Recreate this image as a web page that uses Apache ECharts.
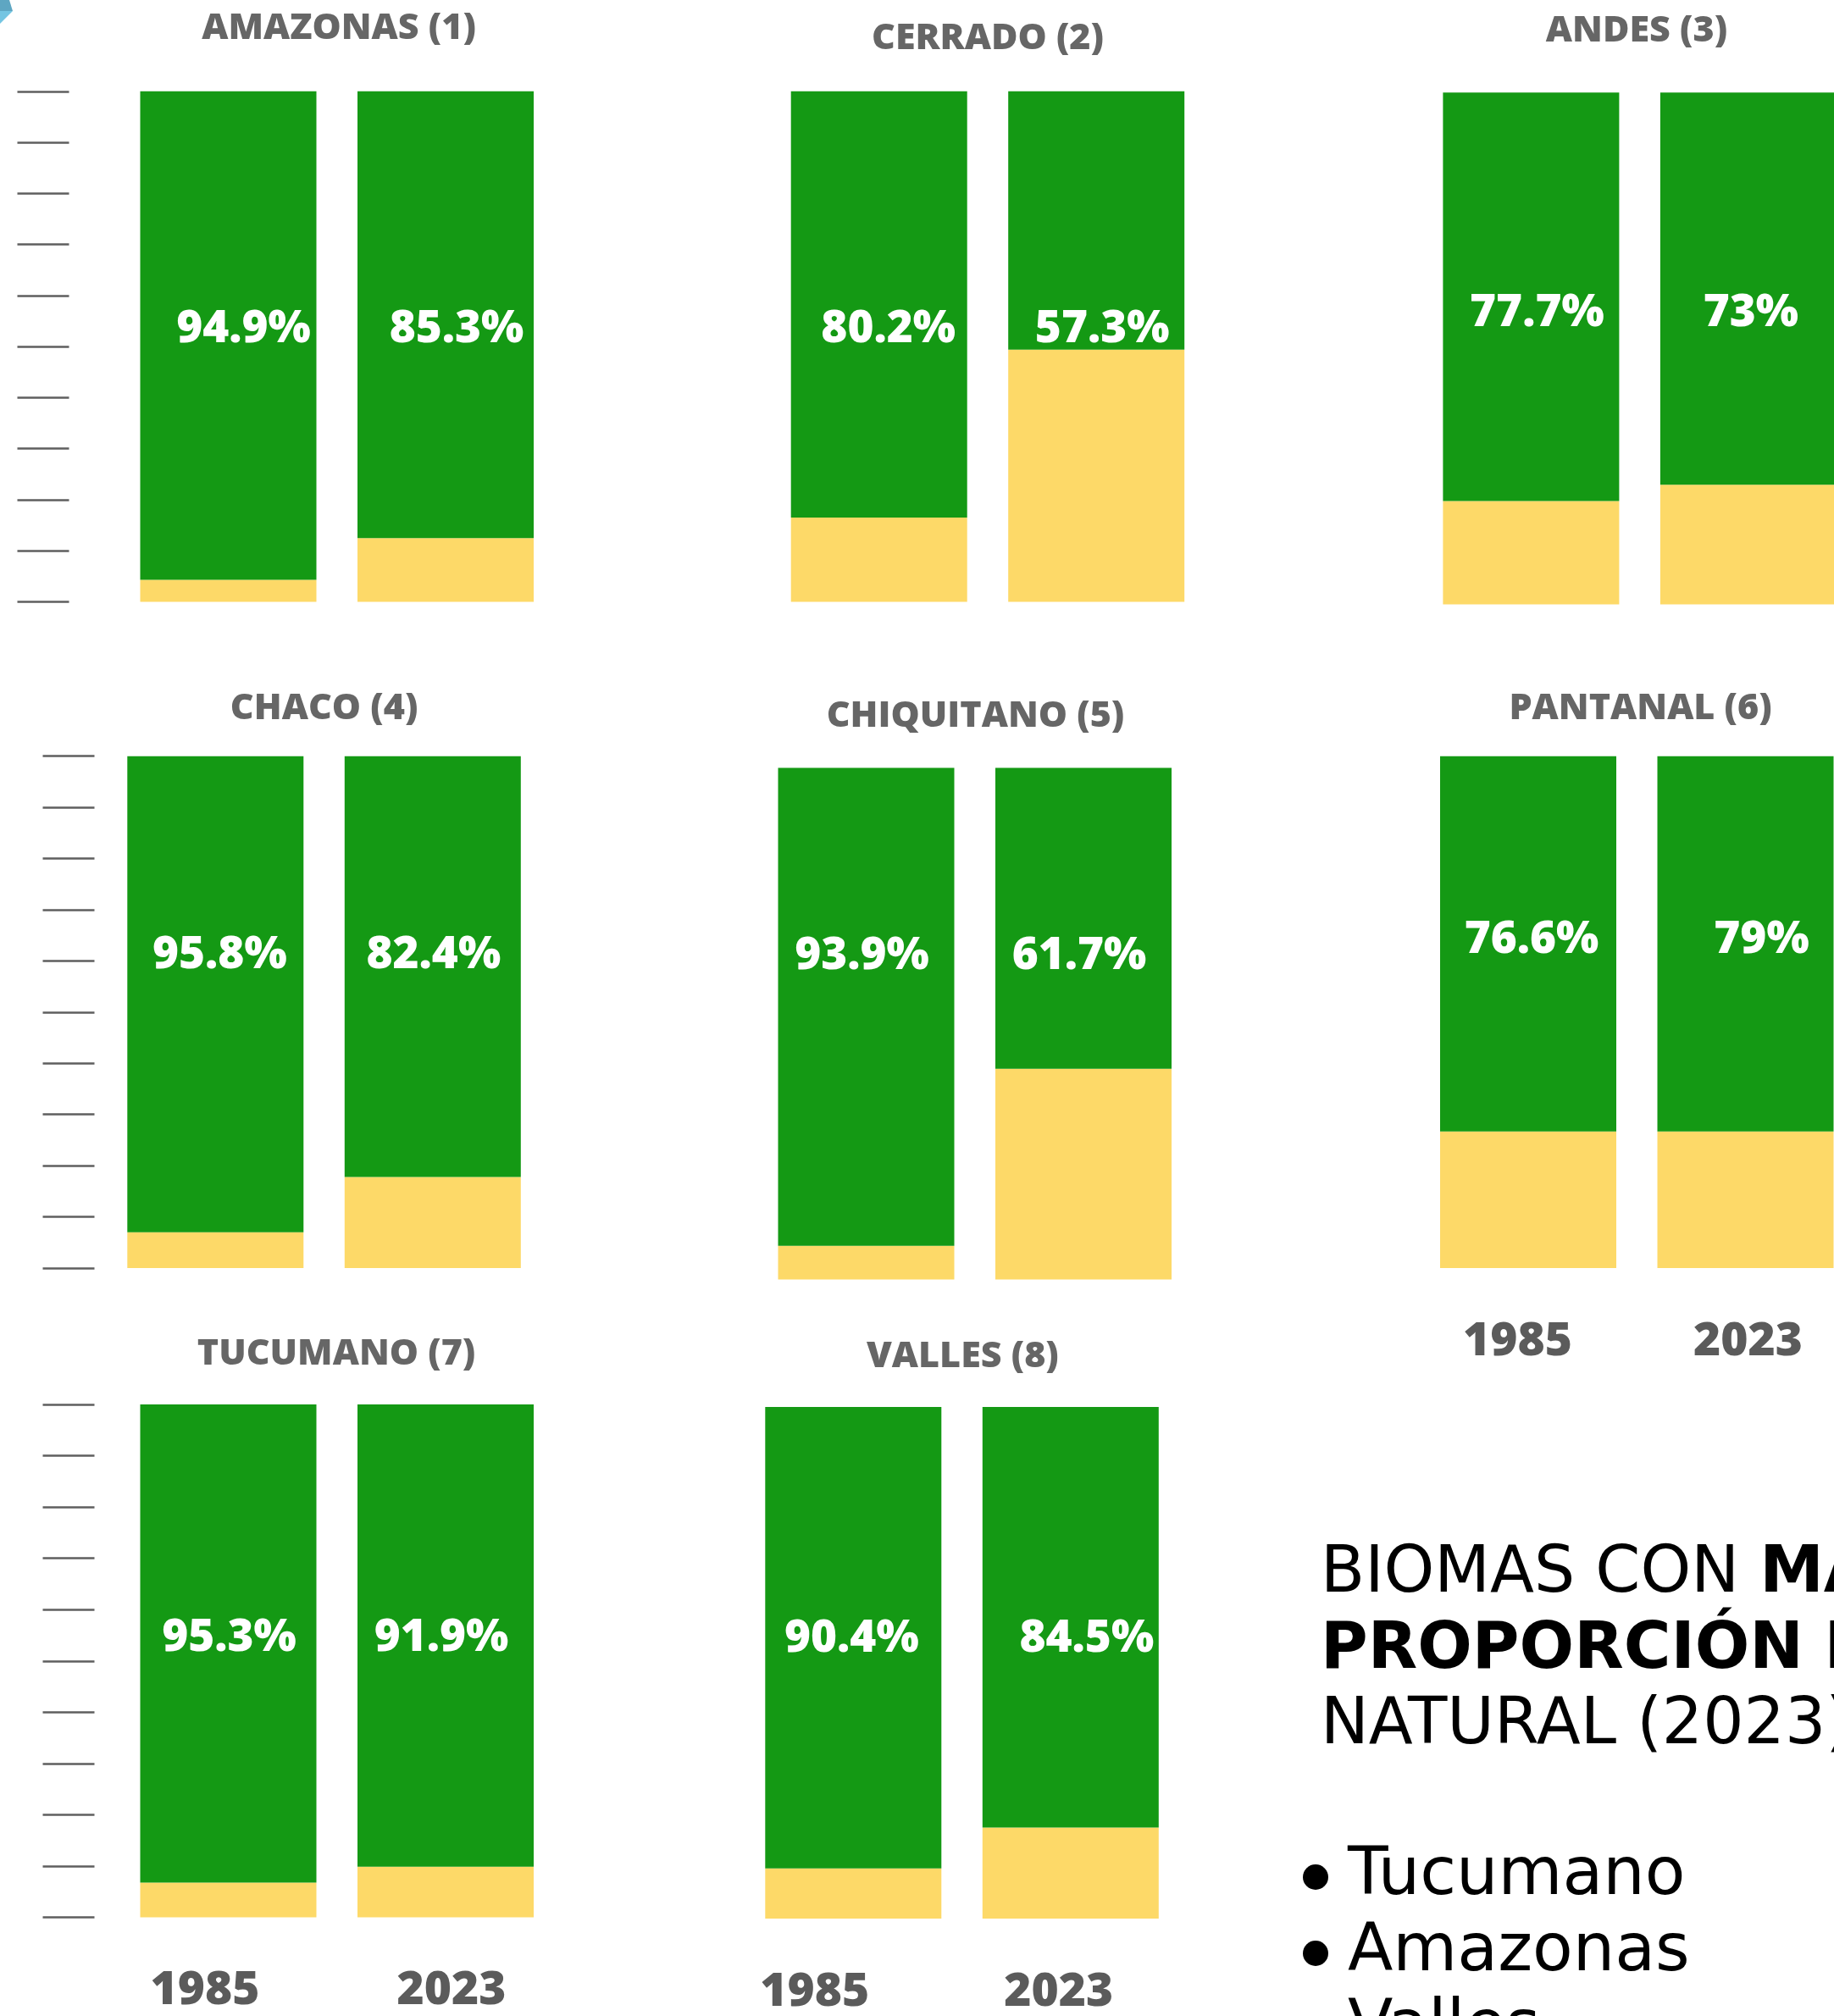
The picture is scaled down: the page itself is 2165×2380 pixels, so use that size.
<!DOCTYPE html>
<html>
<head>
<meta charset="utf-8">
<script src="https://cdn.jsdelivr.net/npm/echarts@6/dist/echarts.min.js"></script>
<style>
html,body{margin:0;padding:0;background:#ffffff;}
#c{width:2165px;height:2380px;}
</style>
</head>
<body>
<div id="c"></div>
<script>
// ---------------- DATA ----------------
const biomes = ['AMAZONAS (1)', 'CERRADO (2)', 'ANDES (3)', 'CHACO (4)', 'CHIQUITANO (5)', 'PANTANAL (6)', 'TUCUMANO (7)', 'VALLES (8)'];
const years = ['1985', '2023'];
// natural share as drawn by the green bars (%)
const natural1985 = [95.7, 83.5, 79.8, 93.0, 93.4, 73.3, 93.2, 90.2];
const natural2023 = [87.5, 50.6, 76.6, 82.2, 58.8, 73.3, 90.1, 82.2];
// percentages printed on the bars
const printed1985 = [94.9, 80.2, 77.7, 95.8, 93.9, 76.6, 95.3, 90.4];
const printed2023 = [85.3, 57.3, 73, 82.4, 61.7, 79, 91.9, 84.5];
// side text
const sideTitleLine1 = ['BIOMAS CON ', 'MAYOR'];
const sideTitleLine2 = ['PROPORCIÓN', ' DE'];
const sideTitleLine3 = 'NATURAL (2023)';
const topBiomes = ['Tucumano', 'Amazonas', 'Valles'];

// ---------------- LAYOUT (pixels) ----------------
const BAR_W = 208, GAP = 48.5;
const layout = [
  {x:165.5,  top:107.8, bottom:710.5,  tx:400,    ty:33.4,   lab:53.4, ldx:[18,13], tickX:81.5},
  {x:933.7,  top:107.8, bottom:710.5,  tx:1166,   ty:45.5,   lab:53.4, ldx:[11,7]},
  {x:1703.4, top:109.3, bottom:713.6,  tx:1932,   ty:36.4,   lab:56.8, ldx:[7,3]},
  {x:150.3,  top:892.7, bottom:1497,   tx:382.6,  ty:836.5,  lab:61.0, ldx:[5,1], tickX:111.5},
  {x:918.5,  top:906.4, bottom:1510.6, tx:1151.5, ty:845.6,  lab:63.2, ldx:[-5,-5]},
  {x:1700,   top:892.7, bottom:1497,   tx:1936.5, ty:836.5,  lab:64.0, ldx:[4,19], ydx:[-12.5,3]},
  {x:165.5,  top:1657.9,bottom:2263.6, tx:397,    ty:1598.7, lab:54.4, ldx:[1,-5], tickX:111.5, ydx:[-27.5,7]},
  {x:903.3,  top:1661,  bottom:2265,   tx:1136.4, ty:1601.7, lab:54.7, ldx:[-2,19], ydx:[-45.5,-14]}
];

const GREEN = '#149914', YELLOW = '#FDD968';
const FONT = 'Open Sans';
const HEAVY = 800;
const grids = [], xAxes = [], yAxes = [], series = [], graphics = [];

function yearRich(dx){
  const base = {fontFamily:FONT, fontWeight:HEAVY, fontSize:55, color:'#5b5b5b'};
  if (dx < 0) return Object.assign({padding:[0, -2*dx, 0, 0]}, base);
  return Object.assign({padding:[0, 0, 0, 2*dx]}, base);
}

layout.forEach((L, i) => {
  const left = L.x - GAP/2;
  grids.push({left: left, top: L.top, width: 2*(BAR_W+GAP), height: L.bottom - L.top,
    containLabel:false, outerBoundsMode:'none'});
  const showYears = !!L.ydx;
  xAxes.push({
    type:'category', gridIndex:i, data:years, boundaryGap:true,
    axisLine:{show:false}, axisTick:{show:false}, splitLine:{show:false},
    axisLabel:{
      show:showYears, margin:87, verticalAlign:'middle', interval:0,
      fontFamily:FONT, fontWeight:HEAVY, fontSize:55, color:'#5b5b5b',
      formatter:(v, idx) => '{y' + idx + '|' + v + '}',
      rich: showYears ? {y0: yearRich(L.ydx[0]), y1: yearRich(L.ydx[1])} : {}
    }
  });
  const hasTicks = L.tickX != null;
  yAxes.push({
    type:'value', gridIndex:i, min:0, max:100, interval:10, position:'left',
    show:hasTicks, offset: hasTicks ? left - L.tickX : 0,
    axisLine:{show:false}, splitLine:{show:false}, axisLabel:{show:false},
    axisTick:{show:hasTicks, length:61, lineStyle:{color:'#5f5f5f', width:2.5}}
  });
  const g = [natural1985[i], natural2023[i]];
  series.push({
    type:'bar', name:'otro', stack:'s'+i, xAxisIndex:i, yAxisIndex:i,
    barWidth:BAR_W, itemStyle:{color:YELLOW}, silent:true, clip:false,
    data: g.map(v => +(100 - v).toFixed(1))
  });
  series.push({
    type:'bar', name:'natural', stack:'s'+i, xAxisIndex:i, yAxisIndex:i,
    barWidth:BAR_W, itemStyle:{color:GREEN}, silent:true, clip:false,
    data: g.map((v, k) => ({
      value:v,
      label:{
        show:true,
        position:['50%', ((100 - L.lab) / v * 100) + '%'],
        offset:[L.ldx[k], 0],
        align:'center', verticalAlign:'middle',
        formatter: () => (k ? printed2023[i] : printed1985[i]) + '%',
        color:'#ffffff', fontFamily:FONT, fontWeight:HEAVY, fontSize:53
      }
    }))
  });
  graphics.push({
    type:'text', x:L.tx, y:L.ty, silent:true,
    style:{text:biomes[i], fill:'#666666', fontFamily:FONT, fontWeight:HEAVY, fontSize:43,
      align:'center', verticalAlign:'middle', textAlign:'center', textVerticalAlign:'middle'}
  });
});

// decoration at top-left corner
graphics.push({type:'polygon', shape:{points:[[0,0],[11,0],[15,13],[0,13]]}, style:{fill:'#5ea6c2'}, silent:true});
graphics.push({type:'polygon', shape:{points:[[0,13],[15,13],[0,28]]}, style:{fill:'#74c5e2'}, silent:true});

// side text block
const sideFont = {fontFamily:'DejaVu Sans', fontSize:76, color:'#000000'};
const sideRich = {
  r: Object.assign({fontWeight:'normal'}, sideFont),
  b: Object.assign({fontWeight:'bold'}, sideFont)
};
function sideText(str, y){
  return {type:'text', x:1559, y:y, silent:true,
    style:{text:str, rich:sideRich, fill:'#000', fontFamily:'DejaVu Sans', fontSize:76,
      align:'left', verticalAlign:'middle', textAlign:'left', textVerticalAlign:'middle'}};
}
graphics.push(sideText('{r|' + sideTitleLine1[0] + '}{b|' + sideTitleLine1[1] + '}', 1859));
graphics.push(sideText('{b|' + sideTitleLine2[0] + '}{r|' + sideTitleLine2[1] + '}', 1949));
graphics.push(sideText('{r|' + sideTitleLine3 + '}', 2038));
topBiomes.forEach((name, k) => {
  const y = 2216 + k*90;
  graphics.push({type:'circle', shape:{cx:1553, cy:y, r:15}, style:{fill:'#000'}, silent:true});
  graphics.push({type:'text', x:1591, y:y, silent:true,
    style:{text:name, fill:'#000', fontFamily:'DejaVu Sans', fontSize:78,
      align:'left', verticalAlign:'middle', textAlign:'left', textVerticalAlign:'middle'}});
});

const chart = echarts.init(document.getElementById('c'), null, {renderer:'canvas'});
chart.setOption({
  animation:false,
  backgroundColor:'#ffffff',
  grid:grids, xAxis:xAxes, yAxis:yAxes, series:series,
  graphic:graphics
});
</script>
</body>
</html>
